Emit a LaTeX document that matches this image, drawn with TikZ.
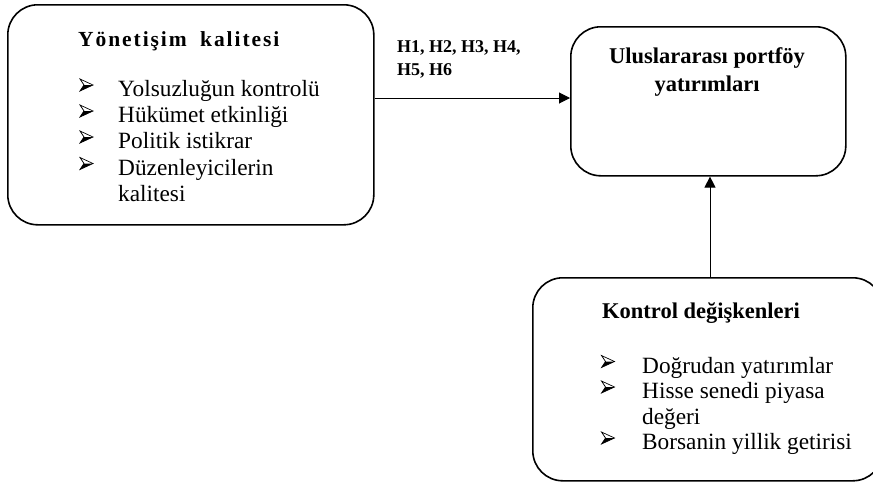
\documentclass[tikz,border=0pt]{standalone}
\usepackage{fontspec}
\setmainfont{Liberation Serif}
\usetikzlibrary{arrows.meta}
\newcommand{\arrbul}{\tikz[x=1pt,y=1pt,line width=0.7pt,line join=miter]{\draw (0,12)--(13,6)--(0,0)--(4,6)--cycle; \fill (4,6)--(13,6)--(0,0)--cycle;}}
\begin{document}
\begin{tikzpicture}[x=1pt,y=-1pt,
  box/.style={draw,line width=1.6pt,rounded corners=30pt,inner sep=0,anchor=north west},
  txt/.style={anchor=base west,inner sep=0,font=\fontsize{23.3}{26}\selectfont},
  bul/.style={anchor=center,inner sep=0},
  ttl/.style={anchor=base west,inner sep=0,font=\bfseries\fontsize{22.5}{26}\selectfont},
  hyp/.style={anchor=base west,inner sep=0,font=\bfseries\fontsize{18}{20}\selectfont},
  arr/.style={-{Triangle[length=11pt,width=11pt]},line width=1pt}]
\useasboundingbox (0,0) rectangle (873,485);
% boxes
\node[box,minimum width=366pt,minimum height=220pt] (b1) at (7,4) {};
\node[box,minimum width=275pt,minimum height=149pt] (b2) at (570,26) {};
\node[box,minimum width=350pt,minimum height=203pt] (b3) at (532,277) {};
% box 1 text
\node[anchor=base west,inner sep=0,font=\bfseries\fontsize{21.5}{24}\selectfont\addfontfeature{LetterSpace=9}] (t1) at (78,46.5) {Yönetişim\hspace{6pt} kalitesi};
\node[bul] (p1) at (86.5,85) {\arrbul};
\node[txt] (l1) at (118,96.5) {Yolsuzluğun kontrolü};
\node[bul] (p2) at (86.5,111) {\arrbul};
\node[txt] (l2) at (118,122.5) {Hükümet etkinliği};
\node[bul] (p3) at (86.5,137) {\arrbul};
\node[txt] (l3) at (118,148.5) {Politik istikrar};
\node[bul] (p4) at (86.5,163.5) {\arrbul};
\node[txt] (l4) at (118,175) {Düzenleyicilerin};
\node[txt] (l5) at (118,201) {kalitesi};
% hypotheses
\node[hyp] (h1) at (397,52) {H1, H2, H3, H4,};
\node[hyp] (h2) at (397,75) {H5, H6};
% box 2 text
\node[anchor=base,inner sep=0,font=\bfseries\fontsize{22.5}{26}\selectfont] (t2a) at (707,63) {Uluslararası portföy};
\node[anchor=base,inner sep=0,font=\bfseries\fontsize{22.5}{26}\selectfont] (t2b) at (707,91) {yatırımları};
% box 3 text
\node[ttl] (t3) at (602,318) {Kontrol değişkenleri};
\node[bul] (q1) at (608,361.5) {\arrbul};
\node[txt] (m1) at (642,373) {Doğrudan yatırımlar};
\node[bul] (q2) at (608,387) {\arrbul};
\node[txt] (m2) at (642,398.5) {Hisse senedi piyasa};
\node[txt] (m3) at (642,424) {değeri};
\node[bul] (q3) at (608,438) {\arrbul};
\node[txt] (m4) at (642,449.5) {Borsanin yillik getirisi};
% connectors
\draw[arr] (b1.east |- 0,98) -- (b2.west |- 0,98);
\draw[arr] (b3.north -| 710,0) -- (b2.south -| 710,0);
\end{tikzpicture}
\end{document}
